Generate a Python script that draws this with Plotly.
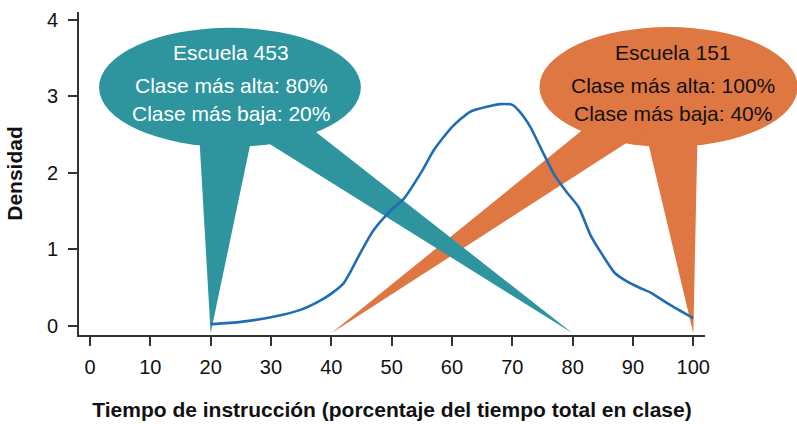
import plotly.graph_objects as go

# 密度曲線のデータ
tiempo = [20, 25, 30, 35, 38, 40, 42, 43, 45, 47, 50, 52, 55, 57, 60, 63, 66, 68, 70,
          71, 73, 75, 77, 79, 81, 83, 85, 87, 89, 91, 93, 96, 100]
densidad = [0.02, 0.05, 0.11, 0.21, 0.32, 0.42, 0.55, 0.68, 0.98, 1.25, 1.52, 1.66, 2.02,
            2.30, 2.60, 2.80, 2.87, 2.90, 2.89, 2.82, 2.60, 2.28, 1.97, 1.75, 1.55, 1.18,
            0.92, 0.69, 0.58, 0.50, 0.43, 0.28, 0.10]

# 学校ごとのクラス情報
escuelas = ['Escuela 453', 'Escuela 151']
clase_alta = [80, 100]
clase_baja = [20, 40]

x_ticks = [0, 10, 20, 30, 40, 50, 60, 70, 80, 90, 100]
y_ticks = [0, 1, 2, 3, 4]

X_RANGE = [-1.82, 101.94]
Y_RANGE = [-0.122, 4.106]
TIP_Y = -0.1

FONT = 'Liberation Sans, Arial, Helvetica, sans-serif'

# 吹き出しの見た目（位置はデータ座標）
bubbles = [
    dict(fill='#2e959f', text='white', cx=23.2, cy=3.12, rx=21.7, ry=0.78, tx=23.4,
         base_alta=[(34.8, 2.70), (26.5, 2.54)],
         base_baja=[(18.1, 2.50), (26.9, 2.50)]),
    dict(fill='#df7742', text='#111111', cx=95.9, cy=3.125, rx=21.4, ry=0.785, tx=96.6,
         base_alta=[(92.2, 2.50), (100.7, 2.50)],
         base_baja=[(84.5, 2.745), (92.5, 2.575)]),
]


def to_px(x):
    return (x - X_RANGE[0]) / (X_RANGE[1] - X_RANGE[0])


def to_py(y):
    return (y - Y_RANGE[0]) / (Y_RANGE[1] - Y_RANGE[0])


def pointer_path(base, tip_x):
    (x1, y1), (x2, y2) = base
    return (f'M {to_px(x1)},{to_py(y1)} L {to_px(tip_x)},{to_py(TIP_Y)} '
            f'L {to_px(x2)},{to_py(y2)} Z')


fig = go.Figure()

fig.add_trace(go.Scatter(
    x=tiempo,
    y=densidad,
    mode='lines',
    line=dict(color='#1f6db3', width=2.6, shape='spline', smoothing=0.6),
    showlegend=False,
    hoverinfo='skip'
))

shapes = []
annotations = []
# オレンジを先に描き、青緑をその上に重ねる
for i in [1, 0]:
    b = bubbles[i]
    shapes.append(dict(
        type='circle', xref='paper', yref='paper', layer='below',
        x0=to_px(b['cx'] - b['rx']), x1=to_px(b['cx'] + b['rx']),
        y0=to_py(b['cy'] - b['ry']), y1=to_py(b['cy'] + b['ry']),
        fillcolor=b['fill'], line=dict(width=0)
    ))
    for base, tip in [(b['base_alta'], clase_alta[i]), (b['base_baja'], clase_baja[i])]:
        shapes.append(dict(
            type='path', xref='paper', yref='paper', layer='below',
            path=pointer_path(base, tip),
            fillcolor=b['fill'], line=dict(width=0)
        ))
    lines = [
        (escuelas[i], 3.58),
        (f'Clase más alta: {clase_alta[i]}%', 3.14),
        (f'Clase más baja: {clase_baja[i]}%', 2.78),
    ]
    for txt, ty in lines:
        annotations.append(dict(
            x=b['tx'], y=ty, xref='x', yref='y', text=txt, showarrow=False,
            font=dict(family=FONT, size=21, color=b['text']),
            xanchor='center', yanchor='middle'
        ))

fig.update_layout(
    width=797,
    height=424,
    margin=dict(l=79, r=92, t=12, b=89),
    paper_bgcolor='white',
    plot_bgcolor='rgba(0,0,0,0)',
    font=dict(family=FONT, color='#111111'),
    shapes=shapes,
    annotations=annotations,
    xaxis=dict(
        range=X_RANGE,
        tickvals=x_ticks,
        ticks='outside', ticklen=9, tickwidth=1.5, tickcolor='#333333',
        showline=True, linewidth=2, linecolor='#333333',
        showgrid=False, zeroline=False,
        tickfont=dict(size=20, color='#111111'),
        ticklabelstandoff=4,
        title=dict(text='<b>Tiempo de instrucción (porcentaje del tiempo total en clase)</b>',
                   font=dict(size=21, color='#111111'), standoff=25),
        automargin=False,
        fixedrange=True
    ),
    yaxis=dict(
        range=Y_RANGE,
        tickvals=y_ticks,
        ticks='outside', ticklen=9, tickwidth=1.5, tickcolor='#333333',
        showline=True, linewidth=2, linecolor='#333333',
        showgrid=False, zeroline=False,
        tickfont=dict(size=20, color='#111111'),
        ticklabelstandoff=6,
        title=dict(text='<b>Densidad</b>', font=dict(size=21, color='#111111'), standoff=19),
        automargin=False,
        fixedrange=True
    ),
)

# ブラウザ既定の body 余白を消す
fig.write_html('out.html', config={'displayModeBar': False},
               post_script="document.body.style.margin = '0';")
